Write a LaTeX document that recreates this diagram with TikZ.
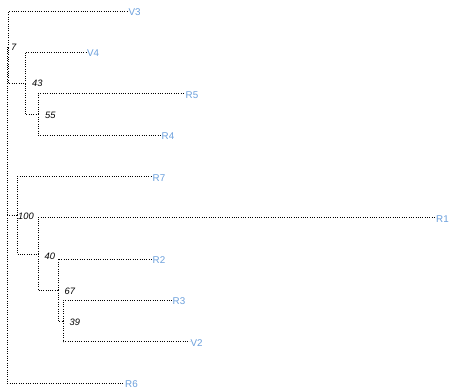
\documentclass[tikz,border=0pt]{standalone}
\usepackage{fontspec}
\setmainfont{Liberation Sans}
\begin{document}
\begin{tikzpicture}[x=1pt,y=-1pt,
  branch/.style={draw=black,line width=0.75pt,dash pattern=on 1pt off 1.3pt},
  leaf/.style={anchor=west,inner sep=1pt,text=leafblue,text height=9pt,text depth=0pt,font=\fontsize{9.8}{11}\selectfont},
  support/.style={anchor=west,inner sep=0pt,text=black,font=\fontsize{9.3}{10}\selectfont\itshape}]
\definecolor{leafblue}{HTML}{6A9FDC}
\useasboundingbox (0,0) rectangle (449,390);
% leaves
\node[leaf] (V3) at (127.5,11.5) {V3};
\node[leaf] (V4) at (86,52.3) {V4};
\node[leaf] (R5) at (184.5,93.8) {R5};
\node[leaf] (R4) at (160.5,135.1) {R4};
\node[leaf] (R7) at (151.5,176.5) {R7};
\node[leaf] (R1) at (435,217.5) {R1};
\node[leaf] (R2) at (151.5,259) {R2};
\node[leaf] (R3) at (171.5,300.4) {R3};
\node[leaf] (V2) at (189.5,341.8) {V2};
\node[leaf] (R6) at (124,383) {R6};
% internal nodes
\coordinate (root) at (7,215.4);
\coordinate (n7) at (8.5,47.6);
\coordinate (n43) at (25,83.6);
\coordinate (n55) at (38,114.5);
\coordinate (n100) at (17,215.4);
\coordinate (n40) at (38,254);
\coordinate (n67) at (58,290.2);
\coordinate (n39) at (63,321.1);
% branches
\draw[branch] (root) |- (n7);
\draw[branch] (root) |- (n100);
\draw[branch] (root) |- (R6.west);
\draw[branch] (n7) |- (V3.west);
\draw[branch] (n7) |- (n43);
\draw[branch] (n43) |- (V4.west);
\draw[branch] (n43) |- (n55);
\draw[branch] (n55) |- (R5.west);
\draw[branch] (n55) |- (R4.west);
\draw[branch] (n100) |- (R7.west);
\draw[branch] (n100) |- (n40);
\draw[branch] (n40) |- (R1.west);
\draw[branch] (n40) |- (n67);
\draw[branch] (n67) |- (R2.west);
\draw[branch] (n67) |- (n39);
\draw[branch] (n39) |- (R3.west);
\draw[branch] (n39) |- (V2.west);
% support values
\node[support] (s7) at (11,47.6) {7};
\node[support] (s43) at (32,83.6) {43};
\node[support] (s55) at (45,115.3) {55};
\node[support] (s100) at (18,216) {100};
\node[support] (s40) at (44.5,256.3) {40};
\node[support] (s67) at (64.5,290.8) {67};
\node[support] (s39) at (69.5,322.2) {39};
\end{tikzpicture}
\end{document}
